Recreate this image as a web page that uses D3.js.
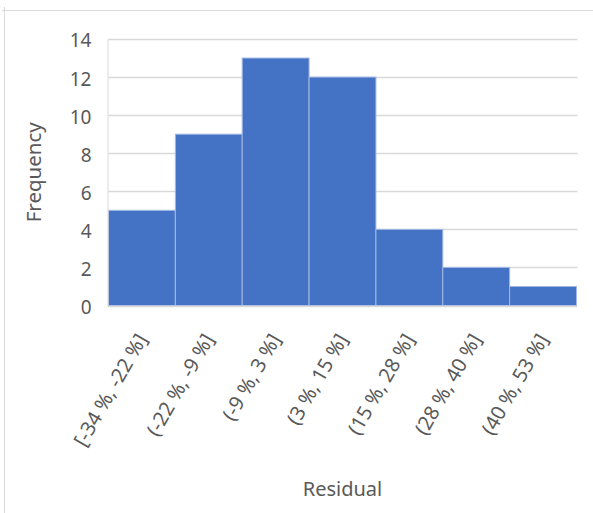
<!DOCTYPE html>
<html>
<head>
<meta charset="utf-8">
<script src="https://cdn.jsdelivr.net/npm/d3@7"></script>
<style>
  html, body { margin: 0; padding: 0; background: #ffffff; }
  svg { display: block; }
  text { font-family: "Noto Sans", "Open Sans", sans-serif; fill: #595959; }
</style>
</head>
<body>
<svg id="chart" width="593" height="513"></svg>
<script>
// Histogram bins of the residuals and their counts
const binLabels = ["[-34 %, -22 %]", "(-22 %, -9 %]", "(-9 %, 3 %]", "(3 %, 15 %]",
                   "(15 %, 28 %]", "(28 %, 40 %]", "(40 %, 53 %]"];
const frequencies = [5, 9, 13, 12, 4, 2, 1];
const yTicks = [0, 2, 4, 6, 8, 10, 12, 14];
const xTitle = "Residual";
const yTitle = "Frequency";

const svg = d3.select("#chart");
const plot = { left: 108.5, right: 576.5, top: 39, bottom: 305.5 };

const x = d3.scaleBand()
  .domain(binLabels)
  .range([plot.left, plot.right])
  .padding(0);

const y = d3.scaleLinear()
  .domain([0, 14])
  .range([plot.bottom, plot.top]);

// Chart frame (top and left edges)
svg.append("line")
  .attr("x1", 2).attr("x2", 593).attr("y1", 10.5).attr("y2", 10.5)
  .attr("stroke", "#d9d9d9").attr("stroke-width", 1);
svg.append("line")
  .attr("x1", 4.5).attr("x2", 4.5).attr("y1", 7).attr("y2", 513)
  .attr("stroke", "#d9d9d9").attr("stroke-width", 1);

// Horizontal gridlines
svg.append("g")
  .selectAll("line")
  .data(yTicks.filter(d => d > 0))
  .join("line")
  .attr("x1", plot.left).attr("x2", plot.right + 1)
  .attr("y1", d => Math.round(y(d)) + 0.5)
  .attr("y2", d => Math.round(y(d)) + 0.5)
  .attr("stroke", "#d9d9d9").attr("stroke-width", 1.3);

// Bars
svg.append("g")
  .selectAll("rect")
  .data(binLabels.map((b, i) => ({ bin: b, value: frequencies[i] })))
  .join("rect")
  .attr("x", d => x(d.bin))
  .attr("width", x.bandwidth())
  .attr("y", d => y(d.value))
  .attr("height", d => y(0) - y(d.value))
  .attr("fill", "#4472c4")
  .attr("stroke", "#a3b8e4")
  .attr("stroke-width", 1);

// Axis lines
svg.append("line")
  .attr("x1", plot.left - 0.5).attr("x2", plot.right + 1)
  .attr("y1", plot.bottom + 1).attr("y2", plot.bottom + 1)
  .attr("stroke", "#d9d9d9").attr("stroke-width", 1.3);
svg.append("line")
  .attr("x1", plot.left - 0.5).attr("x2", plot.left - 0.5)
  .attr("y1", plot.top).attr("y2", plot.bottom + 1)
  .attr("stroke", "#d9d9d9").attr("stroke-width", 1);

// Y axis tick labels
const yAxis = d3.axisLeft(y).tickValues(yTicks).tickSize(0).tickPadding(17);
const gy = svg.append("g")
  .attr("transform", `translate(${plot.left},0)`)
  .call(yAxis);
gy.select(".domain").remove();
gy.selectAll("text")
  .attr("font-size", 19)
  .attr("font-family", "Noto Sans, Open Sans, sans-serif")
  .attr("fill", "#595959")
  .attr("dy", "0.42em");

// X axis category labels, rotated steeply
const xAxis = d3.axisBottom(x).tickSize(0).tickPadding(0);
const gx = svg.append("g")
  .attr("transform", `translate(0,${plot.bottom})`)
  .call(xAxis);
gx.select(".domain").remove();
gx.selectAll("text")
  .attr("font-size", 20)
  .attr("font-family", "Noto Sans, Open Sans, sans-serif")
  .attr("fill", "#595959")
  .attr("text-anchor", "end")
  .attr("dy", 0)
  .attr("y", 0)
  .attr("transform", "translate(6,33.5) rotate(-60)");

// Axis titles
svg.append("text")
  .attr("x", (plot.left + plot.right) / 2)
  .attr("y", 496)
  .attr("text-anchor", "middle")
  .attr("font-size", 20)
  .text(xTitle);

svg.append("text")
  .attr("transform", `translate(41,${(plot.top + plot.bottom) / 2}) rotate(-90)`)
  .attr("text-anchor", "middle")
  .attr("font-size", 20.5)
  .text(yTitle);
</script>
</body>
</html>
